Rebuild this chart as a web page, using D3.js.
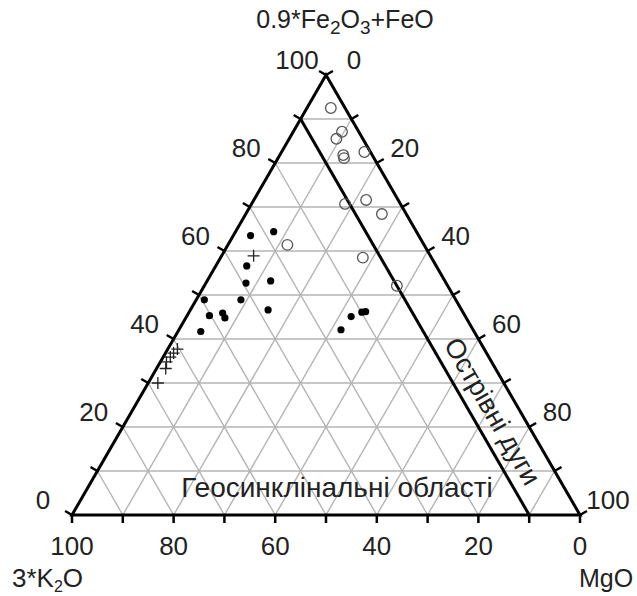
<!DOCTYPE html>
<html>
<head>
<meta charset="utf-8">
<script src="https://cdn.jsdelivr.net/npm/d3@7"></script>
<style>
  body { margin: 0; background: #fff; }
  text { font-family: "Liberation Sans", Arial, sans-serif; fill: #222; }
</style>
</head>
<body>
<div class="svg-mount"></div>
<script>
// points are [Fe, MgO] in %, 3*K2O is what is left over
const openCircles = [
  [92.5, 4.7], [87.1, 9.6], [85.5, 9.3], [81.8, 12.5], [81.1, 13.0],
  [82.5, 16.3], [70.7, 18.4], [71.6, 22.1], [68.4, 26.8], [61.4, 11.7],
  [58.5, 28.0], [52.1, 37.9],
];
const filledDots = [
  [63.5, 3.4], [64.4, 7.5], [56.6, 6.1], [52.7, 7.9], [53.2, 12.5],
  [48.9, 1.6], [48.9, 8.8], [46.6, 15.3], [45.3, 4.4], [45.9, 6.7],
  [44.8, 7.7], [41.7, 4.5], [42.1, 31.9], [45.1, 32.4], [46.1, 34.0],
  [46.2, 34.7],
];
const crosses = [
  [58.9, 6.3], [37.7, 1.9], [36.8, 1.6], [35.9, 1.4], [34.8, 1.2],
  [33.3, 1.8], [30.0, 1.9],
];
const tickValues = [0, 20, 40, 60, 80, 100];
const gridValues = [10, 20, 30, 40, 50, 60, 70, 80, 90];
const boundaryK = 10; // island arc line, 3*K2O = 10

const width = 637;
const height = 596;

const x = d3.scaleLinear().domain([0, 100]).range([72, 580]);
const y = d3.scaleLinear().domain([0, 100]).range([515, 75]);

// fe, mg -> pixel
function pt(fe, mg) {
  return [x(mg + fe / 2), y(fe)];
}
function ptK(k, mg) {
  return pt(100 - k - mg, mg);
}

const svg = d3
  .select(".svg-mount")
  .append("svg")
  .attr("width", width)
  .attr("height", height);

// grid
const grid = svg.append("g").attr("stroke", "#b4b4b4").attr("stroke-width", 1.4);
const gridLines = [];
gridValues.forEach((v) => {
  gridLines.push([pt(v, 0), pt(v, 100 - v)]); // const Fe
  gridLines.push([pt(0, v), pt(100 - v, v)]); // const MgO
  gridLines.push([ptK(v, 0), ptK(v, 100 - v)]); // const K
});
grid
  .selectAll("line")
  .data(gridLines)
  .enter()
  .append("line")
  .attr("x1", (d) => d[0][0])
  .attr("y1", (d) => d[0][1])
  .attr("x2", (d) => d[1][0])
  .attr("y2", (d) => d[1][1]);

// ticks, every 10, pointing out
const tickLen = 8;
const ticks = [];
d3.range(0, 101, 10).forEach((v) => {
  const l = pt(v, 0); // left edge
  ticks.push([l, [l[0] - tickLen * 0.866, l[1] - tickLen * 0.5]]);
  const r = pt(100 - v, v); // right edge
  ticks.push([r, [r[0] + tickLen * 0.866, r[1] - tickLen * 0.5]]);
  const b = pt(0, v); // base
  ticks.push([b, [b[0], b[1] + tickLen]]);
});
svg
  .append("g")
  .attr("stroke", "#000")
  .attr("stroke-width", 2.5)
  .selectAll("line")
  .data(ticks)
  .enter()
  .append("line")
  .attr("x1", (d) => d[0][0])
  .attr("y1", (d) => d[0][1])
  .attr("x2", (d) => d[1][0])
  .attr("y2", (d) => d[1][1]);

// triangle
const corners = [pt(100, 0), pt(0, 0), pt(0, 100)];
svg
  .append("path")
  .attr("d", "M" + corners.join("L") + "Z")
  .attr("fill", "none")
  .attr("stroke", "#000")
  .attr("stroke-width", 3)
  .attr("stroke-linejoin", "miter");

// boundary line
const b1 = ptK(boundaryK, 0);
const b2 = ptK(boundaryK, 100 - boundaryK);
svg
  .append("line")
  .attr("x1", b1[0])
  .attr("y1", b1[1])
  .attr("x2", b2[0])
  .attr("y2", b2[1])
  .attr("stroke", "#000")
  .attr("stroke-width", 3);

// tick labels
const fs = 26;
const lab = svg.append("g").attr("font-size", fs).attr("text-anchor", "middle");
tickValues.forEach((v) => {
  const l = pt(v, 0);
  lab.append("text").attr("x", l[0] - 29).attr("y", l[1] - 15).attr("dy", "0.36em").text(v);
  const r = pt(100 - v, v);
  lab.append("text").attr("x", r[0] + 28).attr("y", r[1] - 15).attr("dy", "0.36em").text(v);
  const b = pt(0, v);
  lab.append("text").attr("x", b[0]).attr("y", b[1] + 31).attr("dy", "0.36em").text(100 - v);
});

// axis titles
const t1 = svg.append("text").attr("x", 345).attr("y", 28).attr("font-size", 25).attr("text-anchor", "middle");
t1.append("tspan").text("0.9*Fe");
t1.append("tspan").attr("dy", 6).attr("font-size", 19).text("2");
t1.append("tspan").attr("dy", -6).text("O");
t1.append("tspan").attr("dy", 6).attr("font-size", 19).text("3");
t1.append("tspan").attr("dy", -6).text("+FeO");

const t2 = svg.append("text").attr("x", 12).attr("y", 587).attr("font-size", 26);
t2.append("tspan").text("3*K");
t2.append("tspan").attr("dy", 5).attr("font-size", 16).text("2");
t2.append("tspan").attr("dy", -5).text("O");

svg.append("text").attr("x", 606).attr("y", 587).attr("font-size", 25).attr("text-anchor", "middle").text("MgO");

// field names
svg
  .append("text")
  .attr("x", 337)
  .attr("y", 497)
  .attr("font-size", 28)
  .attr("text-anchor", "middle")
  .text("Геосинклінальні області");

svg
  .append("text")
  .attr("transform", "translate(493,411) rotate(60)")
  .attr("font-size", 27)
  .attr("text-anchor", "middle")
  .attr("dy", "0.36em")
  .text("Острівні дуги");

// points
const pts = svg.append("g");
pts
  .selectAll("circle.open")
  .data(openCircles)
  .enter()
  .append("circle")
  .attr("class", "open")
  .attr("cx", (d) => pt(d[0], d[1])[0])
  .attr("cy", (d) => pt(d[0], d[1])[1])
  .attr("r", 5.3)
  .attr("fill", "none")
  .attr("stroke", "#555")
  .attr("stroke-width", 1.3);

pts
  .selectAll("circle.dot")
  .data(filledDots)
  .enter()
  .append("circle")
  .attr("class", "dot")
  .attr("cx", (d) => pt(d[0], d[1])[0])
  .attr("cy", (d) => pt(d[0], d[1])[1])
  .attr("r", 3.6)
  .attr("fill", "#000");

pts
  .selectAll("path.cross")
  .data(crosses)
  .enter()
  .append("path")
  .attr("class", "cross")
  .attr("transform", (d) => `translate(${pt(d[0], d[1])})`)
  .attr("d", "M-6,0H6M0,-6V6")
  .attr("stroke", "#222")
  .attr("stroke-width", 1.3);
</script>
</body>
</html>
